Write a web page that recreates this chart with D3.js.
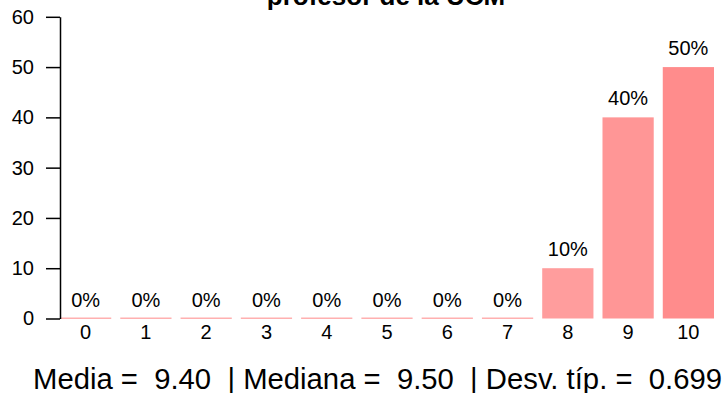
<!DOCTYPE html>
<html><head><meta charset="utf-8">
<script src="https://cdn.jsdelivr.net/npm/d3@7"></script>
<style>body{margin:0;background:#fff}svg{display:block}text{font-family:"Liberation Sans",Arial,sans-serif;}</style>
</head><body>
<script>
const categories = ["0","1","2","3","4","5","6","7","8","9","10"];
const values = [0,0,0,0,0,0,0,0,10,40,50];
const labels = ["0%","0%","0%","0%","0%","0%","0%","0%","10%","40%","50%"];
const colors = ["#FFB0B0","#FFB0B0","#FFB0B0","#FFB0B0","#FFB0B0","#FFB0B0","#FFB0B0","#FFB0B0","#FF9D9D","#FF9696","#FF8C8C"];
const yTicks = [0,10,20,30,40,50,60];
const title = "profesor de la UCM";
const footer = "Media =  9.40  | Mediana =  9.50  | Desv. típ. =  0.699";

const W = 727, H = 393;
const svg = d3.select("body").append("svg").attr("width", W).attr("height", H);

const x = d3.scaleBand().domain(categories).range([60, 714]).paddingInner(0.15).paddingOuter(0).align(0);
const y = d3.scaleLinear().domain([0, 60]).range([318.5, 16.8]);

// bars
svg.selectAll("rect.bar").data(values).join("rect")
  .attr("class","bar")
  .attr("x", (d,i) => x(categories[i]))
  .attr("width", x.bandwidth())
  .attr("y", d => y(d) - (d===0 ? 1 : 0))
  .attr("height", d => y(0) - y(d) + (d===0 ? 1.5 : 0))
  .attr("fill", (d,i) => colors[i]);

// value labels
svg.selectAll("text.vl").data(values).join("text")
  .attr("class","vl")
  .attr("x", (d,i) => x(categories[i]) + x.bandwidth()/2)
  .attr("y", d => y(d) - 12)
  .attr("text-anchor","middle")
  .attr("font-size", 20)
  .attr("fill","#000")
  .text((d,i) => labels[i]);

// x labels
svg.selectAll("text.xl").data(categories).join("text")
  .attr("class","xl")
  .attr("x", d => x(d) + x.bandwidth()/2)
  .attr("y", 339)
  .attr("text-anchor","middle")
  .attr("font-size", 20)
  .text(d => d);

// y axis
const yAxis = d3.axisLeft(y).tickValues(yTicks).tickSize(14).tickPadding(12).tickSizeOuter(0);
const gy = svg.append("g").attr("transform","translate(60,0)").call(yAxis);
gy.select(".domain").attr("stroke","#000").attr("stroke-width",1.5);
gy.selectAll(".tick line").attr("stroke","#000").attr("stroke-width",1.5);
gy.selectAll(".tick text").attr("font-size",20).attr("fill","#000").attr("font-family","Liberation Sans, Arial, sans-serif");

// title (partially cut at top)
svg.append("text")
  .attr("x", 386).attr("y", 5)
  .attr("text-anchor","middle")
  .attr("font-size", 26).attr("font-weight","bold")
  .text(title);

// footer
svg.append("text")
  .attr("x", 33).attr("y", 389)
  .attr("font-size", 29)
  .attr("xml:space","preserve")
  .style("white-space","pre")
  .attr("textLength", 689).attr("lengthAdjust","spacingAndGlyphs")
  .text(footer);
</script>
</body></html>
